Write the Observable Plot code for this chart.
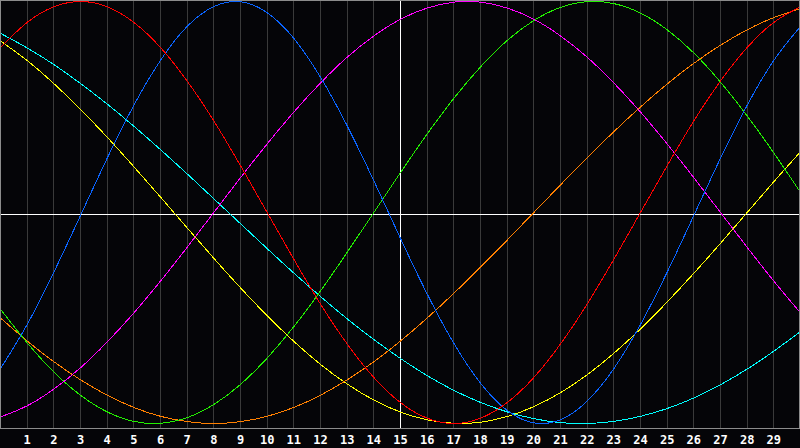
<!DOCTYPE html>
<html>
<head>
<meta charset="utf-8">
<script src="https://cdn.jsdelivr.net/npm/d3@7"></script>
<script src="https://cdn.jsdelivr.net/npm/@observablehq/plot@0.6"></script>
<style>
  html, body { margin: 0; padding: 0; background: #050508; }
  #chart svg { display: block; }
</style>
</head>
<body>
<div id="chart"></div>
<script>
const xValues = [0,1,2,3,4,5,6,7,8,9,10,11,12,13,14,15,16,17,18,19,20,21,22,23,24,25,26,27,28,29,30];
const tickLabels = [1,2,3,4,5,6,7,8,9,10,11,12,13,14,15,16,17,18,19,20,21,22,23,24,25,26,27,28,29];

const red     = [0.782,0.901,0.975,1.000,0.975,0.901,0.782,0.623,0.434,0.222,0.000,-0.222,-0.434,-0.623,-0.782,-0.901,-0.975,-1.000,-0.975,-0.901,-0.782,-0.623,-0.434,-0.222,0.000,0.222,0.434,0.623,0.782,0.901,0.975];
const blue    = [-0.740,-0.531,-0.283,-0.014,0.257,0.508,0.721,0.882,0.976,0.999,0.947,0.825,0.641,0.411,0.150,-0.123,-0.386,-0.620,-0.809,-0.938,-0.997,-0.982,-0.894,-0.740,-0.531,-0.283,-0.014,0.257,0.508,0.721,0.882];
const magenta = [-0.969,-0.916,-0.837,-0.736,-0.614,-0.476,-0.325,-0.165,0.000,0.165,0.325,0.476,0.614,0.736,0.837,0.916,0.969,0.997,0.997,0.969,0.916,0.837,0.736,0.614,0.476,0.325,0.165,0.000,-0.165,-0.325,-0.476];
const green   = [-0.458,-0.618,-0.756,-0.866,-0.945,-0.990,-0.999,-0.972,-0.910,-0.815,-0.690,-0.541,-0.372,-0.189,0.000,0.189,0.372,0.541,0.690,0.815,0.910,0.972,0.999,0.990,0.945,0.866,0.756,0.618,0.458,0.282,0.095];
const orange  = [-0.500,-0.609,-0.707,-0.793,-0.866,-0.924,-0.966,-0.991,-1.000,-0.991,-0.966,-0.924,-0.866,-0.793,-0.707,-0.609,-0.500,-0.383,-0.259,-0.131,0.000,0.131,0.259,0.383,0.500,0.609,0.707,0.793,0.866,0.924,0.966];
const yellow  = [0.813,0.720,0.611,0.489,0.357,0.217,0.073,-0.073,-0.217,-0.357,-0.489,-0.611,-0.720,-0.813,-0.889,-0.946,-0.983,-0.999,-0.994,-0.967,-0.920,-0.854,-0.769,-0.667,-0.552,-0.424,-0.288,-0.146,0.000,0.146,0.288];
const cyan    = [0.849,0.780,0.701,0.611,0.514,0.409,0.298,0.183,0.065,-0.053,-0.171,-0.287,-0.398,-0.504,-0.602,-0.692,-0.773,-0.843,-0.900,-0.945,-0.977,-0.996,-1.000,-0.990,-0.966,-0.929,-0.879,-0.816,-0.742,-0.657,-0.564];

const seriesNames = ["cyan","yellow","orange","green","magenta","blue","red"];
const seriesValues = {red, blue, magenta, green, orange, yellow, cyan};
const seriesColors = {
  red: "#ff0000", blue: "#0a64ff", magenta: "#ff00ff", green: "#22ee00",
  orange: "#ff8000", yellow: "#ffff00", cyan: "#00ffff"
};

const gridTicks = tickLabels.filter(d => d !== 15);
const centerX = [15];
const centerY = [-0.01];

const rows = [];
for (const name of seriesNames) {
  seriesValues[name].forEach((v, i) => rows.push({series: name, x: xValues[i], y: v}));
}

const chart = Plot.plot({
  width: 800,
  height: 448,
  marginLeft: 0,
  marginRight: 1,
  marginTop: 0,
  marginBottom: 20,
  style: {background: "#050508", color: "#ffffff"},
  x: {domain: [0, 30], range: [0, 800]},
  y: {domain: [-1, 1], range: [423, 1], axis: null},
  marks: [
    Plot.ruleX(gridTicks, {stroke: "#3a3a3a", strokeWidth: 1, shapeRendering: "crispEdges"}),
    Plot.ruleX(centerX, {stroke: "#ffffff", strokeWidth: 1, shapeRendering: "crispEdges"}),
    Plot.ruleY(centerY, {stroke: "#ffffff", strokeWidth: 1, shapeRendering: "crispEdges"}),
    Plot.line(rows, {
      x: "x", y: "y", z: "series",
      stroke: d => seriesColors[d.series],
      strokeWidth: 1,
      curve: "natural",
      shapeRendering: "crispEdges"
    }),
    Plot.frame({stroke: "#8c8c8c", strokeWidth: 1, shapeRendering: "crispEdges"}),
    Plot.axisX(tickLabels, {
      tickSize: 0,
      tickPadding: 7,
      fill: "#ffffff",
      fontSize: 12,
      fontWeight: "bold",
      fontFamily: "DejaVu Sans Mono",
      tickFormat: d => String(d),
      label: null
    })
  ]
});
document.getElementById("chart").appendChild(chart);
</script>
</body>
</html>
